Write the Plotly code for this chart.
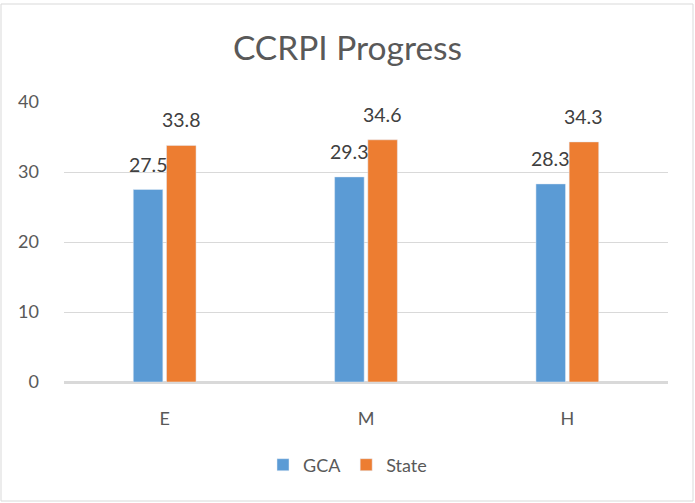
import plotly.graph_objects as go

categories = ["E", "M", "H"]
gca_values = [27.5, 29.3, 28.3]
state_values = [33.8, 34.6, 34.3]
series_names = ["GCA", "State"]
y_ticks = [0, 10, 20, 30, 40]

W, H = 695, 503
ML, MR, MT, MB = 64, 27, 102, 121
FONT = "Lato"
BARGAP = 0.67
GROUPGAP = 0.11

fig = go.Figure()
fig.add_trace(go.Bar(x=categories, y=gca_values, name=series_names[0],
                     marker_color="#5B9BD5"))
fig.add_trace(go.Bar(x=categories, y=state_values, name=series_names[1],
                     marker_color="#ED7D31"))

pw = W - ML - MR
ph = H - MT - MB
cat_w = pw / len(categories)
bar_off = (1 - BARGAP) * cat_w / 4

annotations = []
for vals, sign in ((gca_values, -1), (state_values, 1)):
    for c, v in zip(categories, vals):
        annotations.append(dict(x=c, y=v, xref="x", yref="y", text=f"{v:.1f}",
                                showarrow=False, xanchor="center", yanchor="bottom",
                                xshift=sign * bar_off, yshift=12,
                                font=dict(size=19.5, color="#404040", family=FONT)))

x0 = (1 - ML) / pw
x1 = (W - 2 - ML) / pw
y0 = -(H - 2 - (H - MB)) / ph
y1 = 1 + (MT - 4) / ph

fig.update_layout(
    width=W, height=H,
    margin=dict(l=ML, r=MR, t=MT, b=MB, autoexpand=False),
    paper_bgcolor="white", plot_bgcolor="white",
    font=dict(family=FONT, color="#595959", size=18),
    title=dict(text="CCRPI Progress", x=0.5, xanchor="center", xref="container",
               y=1 - 48 / H, yref="container", yanchor="middle",
               font=dict(size=33.5, color="#595959", family=FONT)),
    barmode="group", bargap=BARGAP, bargroupgap=GROUPGAP,
    showlegend=True,
    legend=dict(orientation="h", xref="container", yref="container",
                x=0.50, xanchor="center", y=1 - 465 / H, yanchor="middle",
                font=dict(size=18, color="#595959", family=FONT),
                itemwidth=30, traceorder="normal"),
    xaxis=dict(showgrid=False, showline=True, linecolor="#d9d9d9", linewidth=1.5,
               ticks="", ticklabelstandoff=20, tickfont=dict(size=18), automargin=False),
    yaxis=dict(range=[0, 40], tickvals=y_ticks, showgrid=True, gridcolor="#d9d9d9",
               gridwidth=1.2, zeroline=True, zerolinecolor="#d9d9d9", zerolinewidth=1.5,
               showline=False, ticks="", ticklabelstandoff=24, tickfont=dict(size=18),
               automargin=False),
    annotations=annotations,
    shapes=[dict(type="rect", xref="paper", yref="paper", x0=x0, x1=x1, y0=y0, y1=y1,
                 line=dict(color="#d9d9d9", width=1), fillcolor="rgba(0,0,0,0)", layer="below")],
)

fig.write_html("out.html", config={"displayModeBar": False},
               post_script="document.body.style.margin='0';")
